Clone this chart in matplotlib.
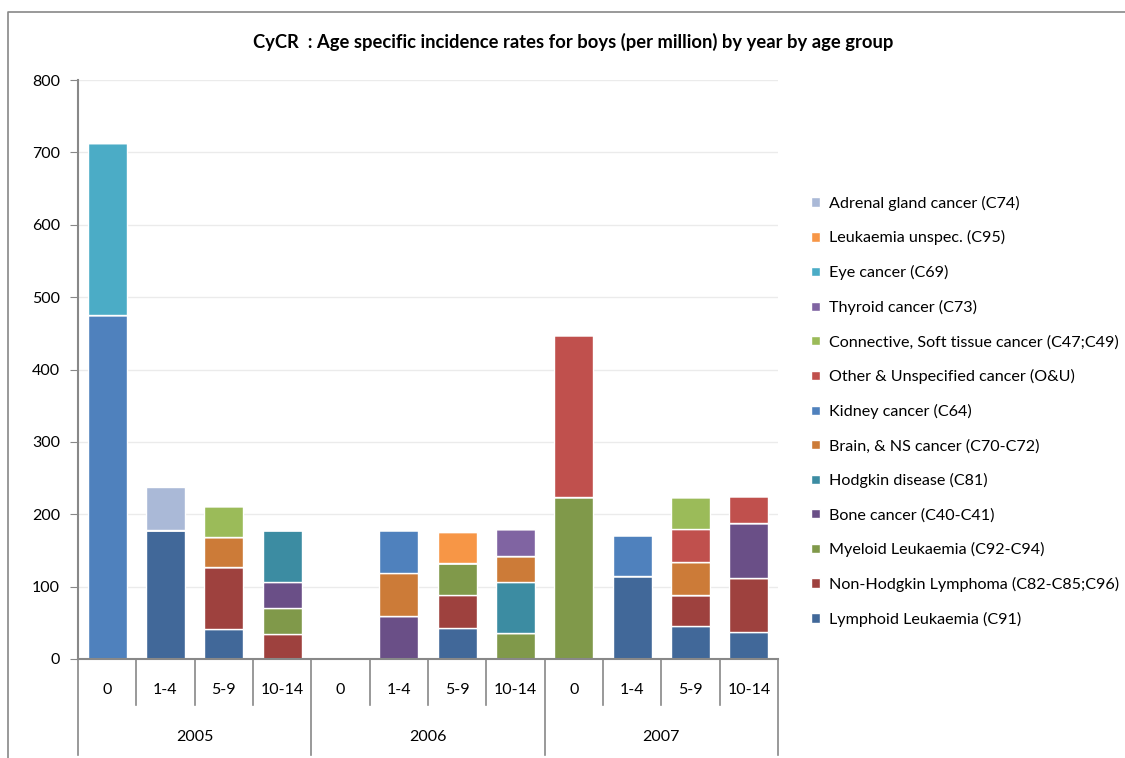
import matplotlib
matplotlib.use('Agg')
from matplotlib import pyplot as plt
from matplotlib.lines import Line2D
import numpy as np

plt.rcParams['font.family'] = ['Lato', 'DejaVu Sans']

years = ['2005', '2006', '2007']
ages = ['0', '1-4', '5-9', '10-14']

# stacking order, bottom to top (legend shows it reversed)
series = ['Lymphoid Leukaemia (C91)',
          'Non-Hodgkin Lymphoma (C82-C85;C96)',
          'Myeloid Leukaemia (C92-C94)',
          'Bone cancer (C40-C41)',
          'Hodgkin disease (C81)',
          'Brain, & NS cancer (C70-C72)',
          'Kidney cancer (C64)',
          'Other & Unspecified cancer (O&U)',
          'Connective, Soft tissue cancer (C47;C49)',
          'Thyroid cancer (C73)',
          'Eye cancer (C69)',
          'Leukaemia unspec. (C95)',
          'Adrenal gland cancer (C74)']
colors = ['#416899', '#9E413E', '#80994A', '#6A4F87', '#3C8CA2', '#CC7B38',
          '#4F81BD', '#C0504D', '#9BBB59', '#8064A2', '#4BACC6', '#F79646',
          '#AAB9D7']

# columns: 2005 (0,1-4,5-9,10-14), 2006 (...), 2007 (...)
lymphoid   = [0, 178, 42, 0,    0, 0, 43, 0,     0, 114, 45, 37]
nhl        = [0, 0, 85, 34,     0, 0, 45, 0,     0, 0, 44, 75]
myeloid    = [0, 0, 0, 36,      0, 0, 44, 36,    224, 0, 0, 0]
bone       = [0, 0, 0, 36,      0, 59, 0, 0,     0, 0, 0, 76]
hodgkin    = [0, 0, 0, 72,      0, 0, 0, 71,     0, 0, 0, 0]
brain      = [0, 0, 42, 0,      0, 60, 0, 36,    0, 0, 45, 0]
kidney     = [475, 0, 0, 0,     0, 59, 0, 0,     0, 57, 0, 0]
other      = [0, 0, 0, 0,       0, 0, 0, 0,      224, 0, 46, 37]
connective = [0, 0, 43, 0,      0, 0, 0, 0,      0, 0, 44, 0]
thyroid    = [0, 0, 0, 0,       0, 0, 0, 37,     0, 0, 0, 0]
eye        = [238, 0, 0, 0,     0, 0, 0, 0,      0, 0, 0, 0]
leuk_unsp  = [0, 0, 0, 0,       0, 0, 44, 0,     0, 0, 0, 0]
adrenal    = [0, 60, 0, 0,      0, 0, 0, 0,      0, 0, 0, 0]

data = [lymphoid, nhl, myeloid, bone, hodgkin, brain, kidney, other,
        connective, thyroid, eye, leuk_unsp, adrenal]

fig = plt.figure(figsize=(11.25, 7.58), dpi=100)
ax = fig.add_axes([78/1125, 99/758, 700/1125, 579/758])

x = np.arange(len(years) * len(ages))
bottom = np.zeros(len(x))
handles = []
for name, vals, c in zip(series, data, colors):
    vals = np.array(vals, dtype=float)
    b = ax.bar(x, vals, 0.67, bottom=bottom, color=c, edgecolor='white',
               linewidth=1, label=name)
    bottom += vals
    handles.append(b)

ax.set_xlim(-0.5, len(x) - 0.5)
ax.set_ylim(0, 800)
ax.set_yticks(np.arange(0, 801, 100))
ax.yaxis.grid(True, color='#EBEBEB', linewidth=1)
ax.set_axisbelow(True)
ax.tick_params(axis='y', labelsize=11.5, colors='#000000', length=6,
               color='#888888', pad=7)
ax.tick_params(axis='x', length=0, labelbottom=False)
for s in ['top', 'right']:
    ax.spines[s].set_visible(False)
ax.spines['left'].set_color('#888888')
ax.spines['bottom'].set_color('#888888')
ax.spines['left'].set_linewidth(1.5)
ax.spines['bottom'].set_linewidth(1.5)

# two-level category axis
tr = ax.get_xaxis_transform()
for i in range(len(x)):
    ax.text(i, -0.053, ages[i % 4], transform=tr, ha='center', va='center',
            fontsize=11.5)
for i in range(len(x) + 1):
    bottom_y = -0.166 if i % 4 == 0 else -0.08
    ax.plot([i - 0.5, i - 0.5], [0, bottom_y], transform=tr, color='#888888',
            linewidth=1.2, clip_on=False)
for j, yr in enumerate(years):
    ax.text(j * 4 + 1.5, -0.135, yr, transform=tr, ha='center', va='center',
            fontsize=11.5)

fig.text(573/1125, 1 - 42/758,
         'CyCR  : Age specific incidence rates for boys (per million) by year by age group',
         ha='center', va='center', fontsize=13.2, fontweight='bold')

fig.legend(handles[::-1], series[::-1], loc='upper left',
           bbox_to_anchor=(805/1125, 1 - 189/758), frameon=False,
           fontsize=11.6, handlelength=0.55, handleheight=0.55,
           handletextpad=0.55, labelspacing=1.23, borderaxespad=0)

# outer chart border
fig.add_artist(Line2D([8/1125, 8/1125, 1], [0, 1 - 12/758, 1 - 12/758],
                      transform=fig.transFigure, color='#888888', linewidth=1.2))

fig.savefig('out.png', dpi=100)
